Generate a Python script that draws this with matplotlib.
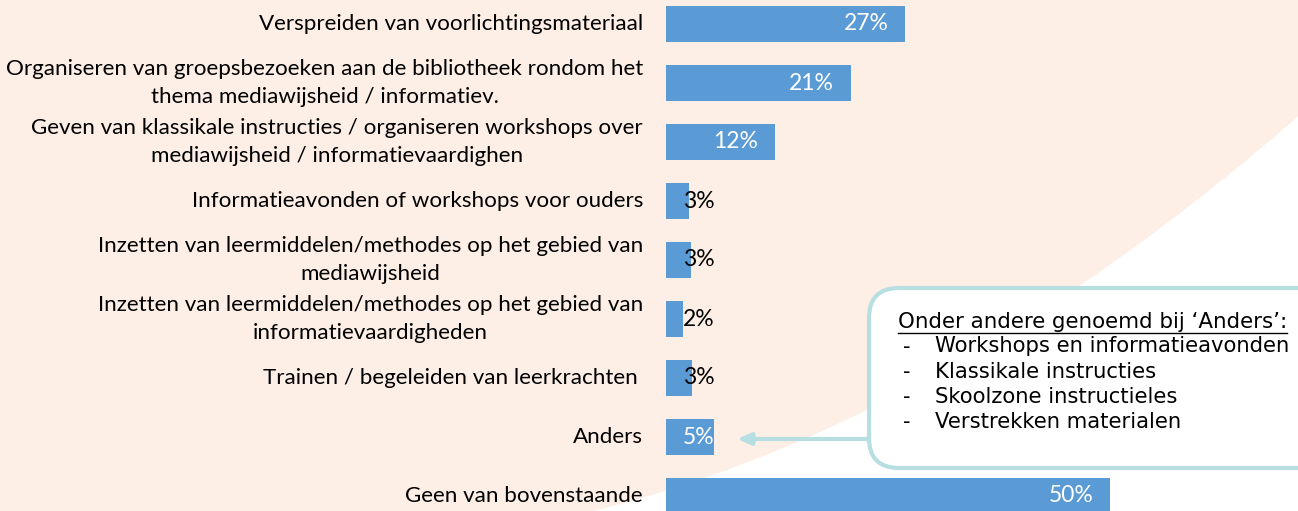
import numpy as np
import matplotlib.pyplot as plt
from matplotlib.patches import FancyBboxPatch, Polygon

categories = [
    "Verspreiden van voorlichtingsmateriaal",
    "Organiseren van groepsbezoeken aan de bibliotheek rondom het\nthema mediawijsheid / informatiev.",
    "Geven van klassikale instructies / organiseren workshops over\nmediawijsheid / informatievaardighen",
    "Informatieavonden of workshops voor ouders",
    "Inzetten van leermiddelen/methodes op het gebied van\nmediawijsheid",
    "Inzetten van leermiddelen/methodes op het gebied van\ninformatievaardigheden",
    "Trainen / begeleiden van leerkrachten ",
    "Anders",
    "Geen van bovenstaande",
]
values = [26.9, 20.8, 12.3, 2.6, 2.8, 1.9, 2.9, 5.4, 49.9]
value_labels = ["27%", "21%", "12%", "3%", "3%", "2%", "3%", "5%", "50%"]
label_colors = ["white", "white", "white", "black", "black", "black", "black", "white", "white"]

callout_title = "Onder andere genoemd bij \u2018Anders\u2019:"
callout_items = [
    "Workshops en informatieavonden",
    "Klassikale instructies",
    "Skoolzone instructieles",
    "Verstrekken materialen",
]

BAR = "#5B9BD5"
PEACH = "#FDEFE6"
TEAL = "#B7DFE2"
W, H = 1298, 511

fig = plt.figure(figsize=(W / 100, H / 100), dpi=100)

# achtergrond in pixelcoordinaten
bg = fig.add_axes([0, 0, 1, 1], zorder=0)
bg.set_xlim(0, W)
bg.set_ylim(H, 0)
bg.axis("off")
bg.add_patch(plt.Rectangle((0, 0), W, H, color="white"))

# gebogen perzik vlak
cx = np.array([1298, 1065, 857, 640])
cy = np.array([115, 300, 410, 500])
coef = np.polyfit(cx, cy, 2)
xs = np.linspace(W, 560, 80)
ys = np.polyval(coef, xs)
keep = ys <= H + 20
pts = [(0, 0), (W, 0)] + list(zip(xs[keep], ys[keep])) + [(0, H + 20)]
bg.add_patch(Polygon(pts, closed=True, color=PEACH, lw=0))

# callout
box = FancyBboxPatch((869, 288), 480, 180,
                     boxstyle="round,pad=0,rounding_size=30",
                     fc="white", ec=TEAL, lw=3)
bg.add_patch(box)
bg.annotate("", xy=(737, 439), xytext=(869, 439),
            arrowprops=dict(arrowstyle="-|>,head_length=0.8,head_width=0.35",
                            color=TEAL, lw=3, shrinkA=0, shrinkB=0))

title = bg.text(898, 322, callout_title, fontsize=15.4, family="DejaVu Sans",
                va="center", ha="left", color="black")
for k, item in enumerate(callout_items):
    yy = 346.5 + k * 25.3
    bg.text(903, yy, "-", fontsize=15.2, family="DejaVu Sans", va="center", ha="left")
    bg.text(935, yy, item, fontsize=15.2, family="DejaVu Sans", va="center", ha="left")

# hoofdgrafiek
ax = fig.add_axes([666 / W, 0, (W - 666) / W, 1], zorder=1)
ax.patch.set_alpha(0)
y = np.arange(len(categories))
ax.barh(y, values, height=0.61, color=BAR)
ax.set_xlim(0, (W - 666) / 8.9)
ax.set_ylim((H - 24) / 59, -24 / 59)
for s in ax.spines.values():
    s.set_visible(False)
ax.set_xticks([])
ax.set_yticks(y)
ax.set_yticklabels(categories, fontsize=16.1, family="Lato", linespacing=1.5)
for t in ax.get_yticklabels():
    t.set_multialignment("center")
    t.set_verticalalignment("center")
ax.tick_params(axis="y", length=0, pad=16.5)

off = 17 * 72 / 100
for i, v in enumerate(values):
    if v > 8:
        ax.annotate(value_labels[i], xy=(v, i), xytext=(-off, 0), textcoords="offset points",
                    ha="right", va="center", fontsize=16.5, family="Lato", color=label_colors[i])
    else:
        ax.annotate(value_labels[i], xy=(0, i), xytext=(off, 0), textcoords="offset points",
                    ha="left", va="center", fontsize=16.5, family="Lato", color=label_colors[i])

# onderstreping van de titel
fig.canvas.draw()
bb = title.get_window_extent()
inv = bg.transData.inverted()
(x0, y0), (x1, y1) = inv.transform([[bb.x0, bb.y0], [bb.x1, bb.y0]])
bg.plot([x0, x1], [y0 + 1, y1 + 1], color="black", lw=1)

fig.savefig("out.png", dpi=100)
